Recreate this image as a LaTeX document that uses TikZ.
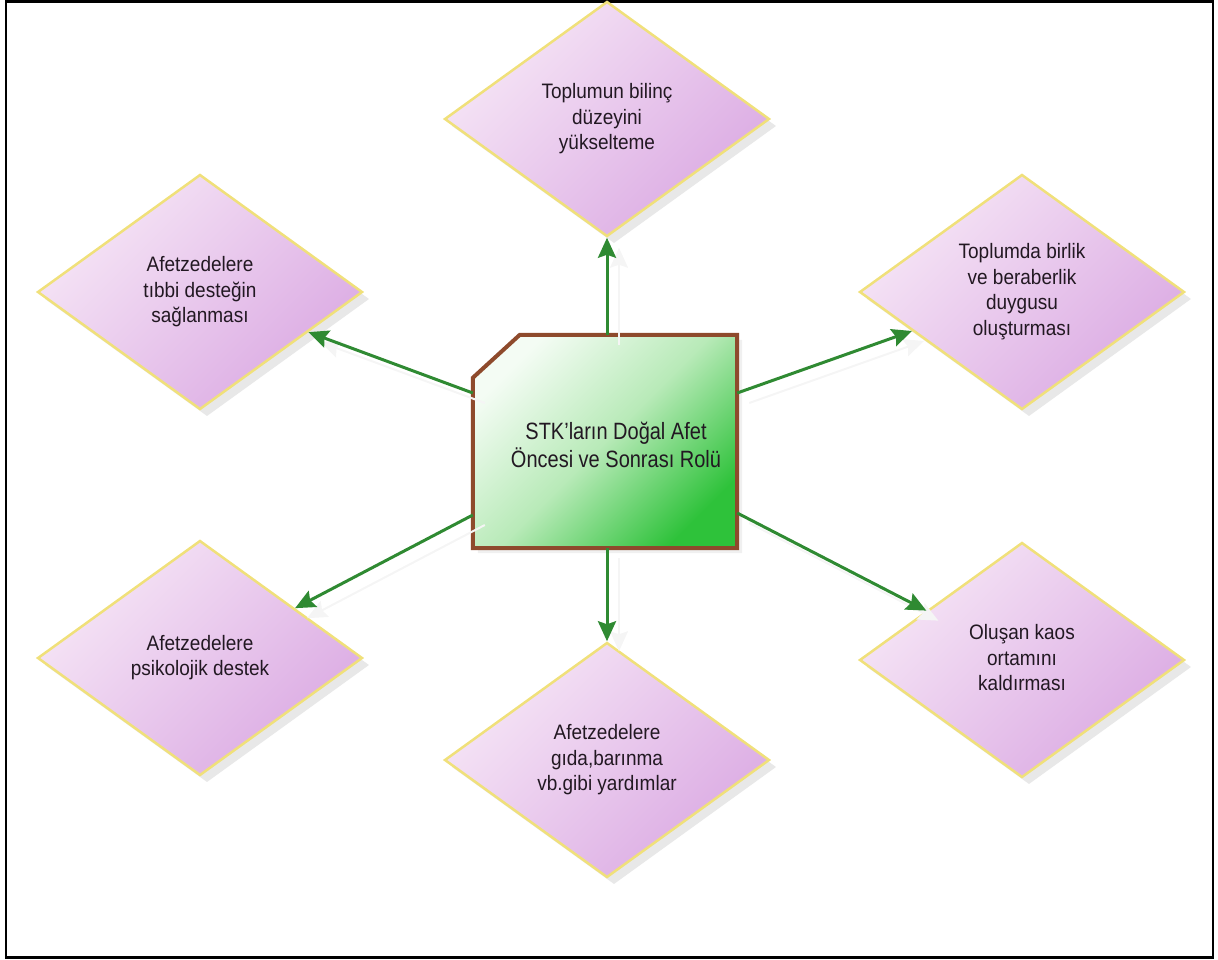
\documentclass[tikz,border=0pt]{standalone}
\usepackage{graphicx}
\usepackage{fontspec}
\setmainfont{Liberation Sans}
\usetikzlibrary{shapes.geometric,arrows.meta,shadows,calc}
\definecolor{dfillA}{HTML}{F6E6F6}
\definecolor{dfillB}{HTML}{DBAAE3}
\definecolor{dborder}{HTML}{F0E07A}
\definecolor{cfillA}{HTML}{F4FCF4}
\definecolor{cfillM}{HTML}{B8EAB8}
\definecolor{cfillB}{HTML}{2EC23A}
\definecolor{cborder}{HTML}{8E4A2C}
\definecolor{arr}{HTML}{2F8A32}
\definecolor{txt}{HTML}{221822}
\newcommand{\vtext}[2]{\scalebox{1}[#1]{\begin{tabular}{@{}c@{}}#2\end{tabular}}}
\begin{document}
\begin{tikzpicture}[x=1pt,y=-1pt,
  idea/.style={diamond, minimum width=325pt, minimum height=235pt, inner sep=0pt, align=center,
    draw=dborder, line width=2.5pt, top color=dfillA, bottom color=dfillB, shading angle=45,
    drop shadow={shadow xshift=7pt, shadow yshift=-7pt, opacity=0.18},
    font=\fontsize{19}{23.2}\selectfont, text=txt},
  link/.style={draw=arr, line width=3pt, -{Stealth[length=20pt,width=18pt,inset=3pt]},
    preaction={draw=black!4, line width=2pt, transform canvas={shift={(12pt,-10pt)}}}},
  centertext/.style={align=center, font=\fontsize{20}{23.7}\selectfont, text=txt},
  frame/.style={draw=black, line width=2.5pt}
]
\useasboundingbox (0,0) rectangle (1218,960);
\path[frame] (6,1.5) rectangle (1213,957.5);

\node[idea] (t)  at (607,119) {\vtext{1.1}{Toplumun bilinç\\düzeyini\\yükselteme}};
\node[idea] (ul) at (200,292) {\vtext{1.1}{Afetzedelere\\tıbbi desteğin\\sağlanması}};
\node[idea] (ur) at (1022,292) {\vtext{1.1}{Toplumda birlik\\ve beraberlik\\duygusu\\oluşturması}};
\node[idea] (ll) at (200,658) {\vtext{1.1}{Afetzedelere\\psikolojik destek}};
\node[idea] (b)  at (607,760) {\vtext{1.1}{Afetzedelere\\gıda,barınma\\vb.gibi yardımlar}};
\node[idea] (lr) at (1022,660) {\vtext{1.1}{Oluşan kaos\\ortamını\\kaldırması}};

\node[minimum width=264pt, minimum height=213pt, inner sep=0pt] (c) at (605,441.5) {};
\path[top color=cfillA, bottom color=cfillB, middle color=cfillM, shading angle=45, draw=cborder, line width=4pt,
  drop shadow={shadow xshift=5pt, shadow yshift=-5pt, opacity=0.12}]
  ($(c.north west)+(0,43)$) -- ($(c.north west)+(47,0)$) -- (c.north east) -- (c.south east) -- (c.south west) -- cycle;
\node[centertext] (ct) at (616,448) {\vtext{1.18}{STK'ların Doğal Afet\\Öncesi ve Sonrası Rolü}};

\draw[link] (t |- c.north) -- (t);
\draw[link] (b |- c.south) -- (b);
\draw[link] ($(c.west)+(0,-48.5)$) -- (ul);
\draw[link] ($(c.west)+(0,73.5)$) -- (ll);
\draw[link] ($(c.east)+(0,-48.5)$) -- (ur);
\draw[link] ($(c.east)+(0,71.5)$) -- (lr);
\end{tikzpicture}
\end{document}
